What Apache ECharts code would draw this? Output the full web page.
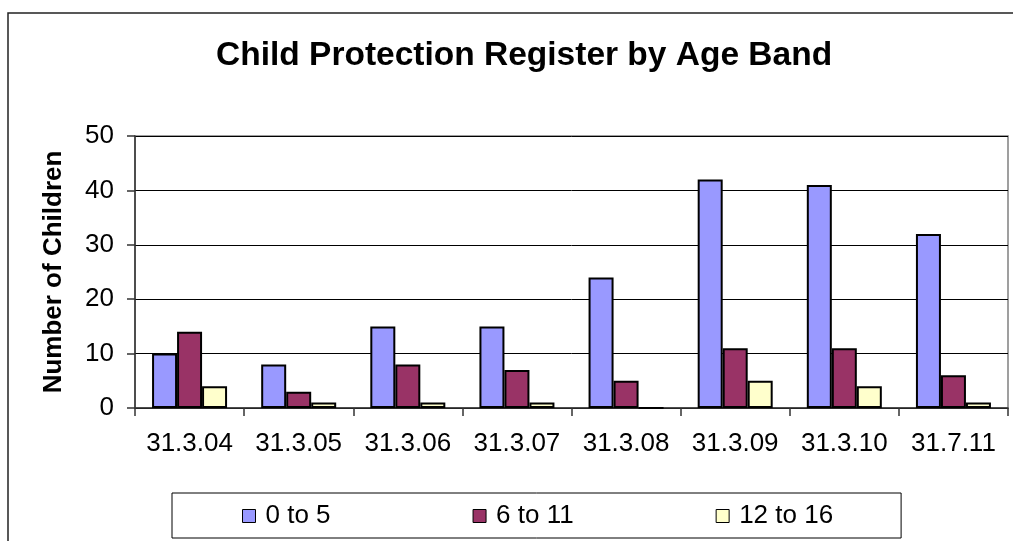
<!DOCTYPE html>
<html>
<head>
<meta charset="utf-8">
<script src="https://cdn.jsdelivr.net/npm/echarts@6/dist/echarts.min.js"></script>
<style>
html,body{margin:0;padding:0;background:#fff;}
#chart{width:1013px;height:541px;}
</style>
</head>
<body>
<div id="chart"></div>
<script>
const categories = ['31.3.04','31.3.05','31.3.06','31.3.07','31.3.08','31.3.09','31.3.10','31.7.11'];
const age0to5   = [10, 8, 15, 15, 24, 42, 41, 32];
const age6to11  = [14, 3, 8, 7, 5, 11, 11, 6];
const age12to16 = [4, 1, 1, 1, 0, 5, 4, 1];
const seriesNames = ['0 to 5', '6 to 11', '12 to 16'];
const yTicks = [0, 10, 20, 30, 40, 50];

const FONT = "'Liberation Sans', Arial, sans-serif";
const colors = ['#9999FF', '#993366', '#FFFFCC'];
const chart = echarts.init(document.getElementById('chart'), null, {renderer: 'canvas'});

function barSeries(name, data, color) {
  return {
    name: name, type: 'bar', data: data, barWidth: 25, barGap: '0%',
    itemStyle: {color: color, borderColor: '#000', borderWidth: 2},
    emphasis: {disabled: true}
  };
}

chart.setOption({
  animation: false,
  backgroundColor: '#fff',
  title: {
    text: 'Child Protection Register by Age Band',
    left: 211, top: 34,
    textStyle: {fontFamily: FONT, fontSize: 33.5, fontWeight: 'bold', color: '#000'}
  },
  graphic: [{
    type: 'rect', silent: true, z: -10,
    shape: {x: 8, y: 13, width: 1040, height: 560},
    style: {fill: 'none', stroke: '#222', lineWidth: 1.5}
  }],
  legend: {
    data: seriesNames,
    left: 172, top: 493,
    orient: 'horizontal',
    padding: [10, 68, 9, 70],
    itemGap: 142,
    itemWidth: 13, itemHeight: 13,
    icon: 'rect',
    borderColor: '#000', borderWidth: 1,
    itemStyle: {borderColor: '#000', borderWidth: 1},
    textStyle: {fontFamily: FONT, fontSize: 26, color: '#000', padding: [0, 0, 0, 5]}
  },
  grid: {
    left: 135, right: 5, top: 136, bottom: 133,
    show: true, borderColor: '#808080', borderWidth: 1.5, backgroundColor: 'transparent'
  },
  xAxis: {
    type: 'category', data: categories,
    axisLine: {lineStyle: {color: '#333', width: 1.5}},
    axisTick: {show: true, length: 8, lineStyle: {color: '#333', width: 1.5}},
    axisLabel: {fontFamily: FONT, fontSize: 26, color: '#000', margin: 23, interval: 0, hideOverlap: false},
    splitLine: {show: false}
  },
  yAxis: {
    type: 'value', min: yTicks[0], max: yTicks[yTicks.length - 1], interval: 10,
    name: 'Number of Children', nameLocation: 'middle', nameGap: 68, nameRotate: 90,
    nameTextStyle: {fontFamily: FONT, fontSize: 26, fontWeight: 'bold', color: '#000'},
    axisLine: {show: true, lineStyle: {color: '#333', width: 1.5}},
    axisTick: {show: true, length: 8, lineStyle: {color: '#333', width: 1.5}},
    axisLabel: {fontFamily: FONT, fontSize: 26, color: '#000', margin: 21},
    splitLine: {show: true, lineStyle: {color: '#000', width: 1}}
  },
  series: [
    barSeries(seriesNames[0], age0to5, colors[0]),
    barSeries(seriesNames[1], age6to11, colors[1]),
    barSeries(seriesNames[2], age12to16, colors[2])
  ]
});
</script>
</body>
</html>
